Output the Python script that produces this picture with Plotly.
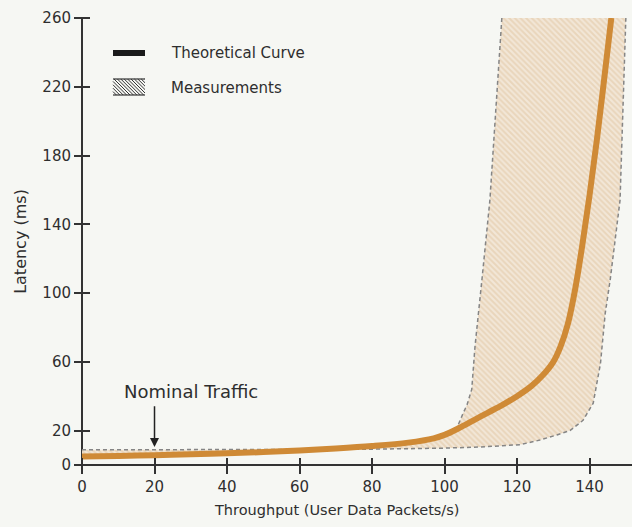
import plotly.graph_objects as go

# Theoretical curve
curve_x = [0, 10, 20, 30, 40, 50, 60, 70, 80, 90, 97, 100, 104, 108, 112, 116, 120, 124, 127, 130, 132, 134, 136, 138, 140, 142, 144, 146]
curve_y = [5, 5.3, 5.7, 6.2, 6.8, 7.5, 8.5, 9.6, 11, 13, 15.5, 17.5, 21.5, 26, 30.5, 35, 40, 46, 52, 60, 69, 82, 102, 128, 157, 189, 224, 260]

# Measurement band: lower/right edge (dashed), then left edge (dashed)
lower_x = [0, 20, 40, 60, 80, 100, 110, 120.8, 126.3, 131, 134.6, 138.2, 141, 143, 144.3, 145.7, 148.4, 150]
lower_y = [8.8, 8.8, 8.9, 9, 9.2, 9.8, 10.5, 11.8, 14.5, 17.5, 20, 26, 36, 59, 88, 108, 154, 260]
left_x = [115.8, 112.5, 110.3, 108.4, 107.5, 106.2, 105.1, 103.4, 102]
left_y = [260, 154, 107.6, 69, 44, 35, 30, 21.5, 19]

x_ticks = [0, 20, 40, 60, 80, 100, 120, 140]
y_ticks = [0, 20, 60, 100, 140, 180, 220, 260]
x_range = [0, 151.7]
y_range = [0, 260]

legend_labels = ["Theoretical Curve", "Measurements"]

# polygon built from the band edges and the curve below x=102
back_x = [x for x in reversed(curve_x) if x < 102]
back_y = [y for x, y in zip(reversed(curve_x), reversed(curve_y)) if x < 102]
band_x = lower_x + left_x + back_x
band_y = lower_y + left_y + back_y

ORANGE = "#cf8a36"
DASH = "#858585"
TXT = "#2e2e2e"
AX = "#333333"
BG = "#f6f7f3"
FONT = "DejaVu Sans, Liberation Sans, Arial, sans-serif"

W, H = 632, 527
ML, MR, MT, MB = 82, 0, 18, 62
PW, PH = W - ML - MR, H - MT - MB
TICK_HALF = 8


def px(x):  # page pixel -> paper x
    return (x - ML) / PW


def py(y):  # page pixel -> paper y
    return (H - MB - y) / PH


fig = go.Figure()
fig.add_trace(go.Scatter(
    x=band_x, y=band_y, fill="toself", mode="none",
    fillcolor="#e9d5bb",
    fillpattern=dict(shape="\\", bgcolor="#e9d5bb", fgcolor="#fbf9f4", size=4, solidity=0.5),
    showlegend=False, hoverinfo="skip"))
fig.add_trace(go.Scatter(x=lower_x, y=lower_y, mode="lines",
                         line=dict(color=DASH, width=1.5, dash="4px,3px"),
                         showlegend=False, hoverinfo="skip"))
fig.add_trace(go.Scatter(x=left_x, y=left_y, mode="lines",
                         line=dict(color=DASH, width=1.5, dash="4px,3px"),
                         showlegend=False, hoverinfo="skip"))
fig.add_trace(go.Scatter(x=curve_x, y=curve_y, mode="lines",
                         line=dict(color=ORANGE, width=6, shape="spline", smoothing=1.0),
                         showlegend=False))

# custom legend
shapes = []
shapes.append(dict(type="line", xref="paper", yref="paper", x0=px(113), x1=px(145), y0=py(53), y1=py(53),
                   line=dict(color="#1a1a1a", width=6)))
bx0, bx1, by0, by1 = 113, 145, 79, 95
hh = by1 - by0
c = bx0 - hh
while c < bx1:
    xs = max(c, bx0)
    xe = min(c + hh, bx1)
    if xe > xs:
        shapes.append(dict(type="line", xref="paper", yref="paper",
                           x0=px(xs), y0=py(by0 + (xs - c)), x1=px(xe), y1=py(by0 + (xe - c)),
                           line=dict(color="#333", width=1)))
    c += 3.4
for yy in (by0, by1):
    shapes.append(dict(type="line", xref="paper", yref="paper", x0=px(bx0), x1=px(bx1), y0=py(yy), y1=py(yy),
                       line=dict(color="#333", width=1.2)))
fig.update_layout(shapes=shapes)
fig.add_annotation(x=px(169), y=py(53), xref="paper", yref="paper", xanchor="left", yanchor="middle",
                   text=legend_labels[0], showarrow=False, font=dict(size=15, color=TXT))
fig.add_annotation(x=px(169), y=py(88), xref="paper", yref="paper", xanchor="left", yanchor="middle",
                   text=legend_labels[1], showarrow=False, font=dict(size=15, color=TXT))

fig.add_annotation(x=20, y=10.5, ax=20, ay=35, xref="x", yref="y", axref="x", ayref="y",
                   text="", showarrow=True, arrowhead=2, arrowsize=1.2, arrowwidth=1.5, arrowcolor="#222")
fig.add_annotation(x=30, y=43, xref="x", yref="y", text="Nominal Traffic", showarrow=False,
                   font=dict(size=18, color=TXT))
fig.add_annotation(x=px(336), y=py(510), xref="paper", yref="paper", yanchor="middle",
                   text="Throughput (User Data Packets/s)", showarrow=False,
                   font=dict(size=14.5, color=TXT))

# axes: lines drawn as zero lines, ticks placed on a free axis shifted inward so they cross the line
fig.update_layout(
    width=W, height=H,
    margin=dict(l=ML, r=MR, t=MT, b=MB),
    paper_bgcolor=BG, plot_bgcolor=BG,
    font=dict(family=FONT, size=15, color=TXT),
    showlegend=False,
    xaxis=dict(range=x_range, tickvals=x_ticks, showgrid=False, automargin=False,
               zeroline=True, zerolinecolor=AX, zerolinewidth=1.5,
               showline=False, anchor="free", position=TICK_HALF / PH,
               ticks="outside", ticklen=2 * TICK_HALF, tickwidth=1.5, tickcolor=AX,
               tickfont=dict(size=15)),
    yaxis=dict(range=y_range, tickvals=y_ticks, showgrid=False, automargin=False,
               zeroline=True, zerolinecolor=AX, zerolinewidth=1.5,
               showline=False, anchor="free", position=TICK_HALF / PW,
               ticks="outside", ticklen=2 * TICK_HALF, tickwidth=1.5, tickcolor=AX,
               tickfont=dict(size=15),
               title=dict(text="Latency (ms)", standoff=10, font=dict(size=16))),
)

fig.write_html("out.html", config={"displayModeBar": False},
               post_script="document.body.style.margin='0';")
